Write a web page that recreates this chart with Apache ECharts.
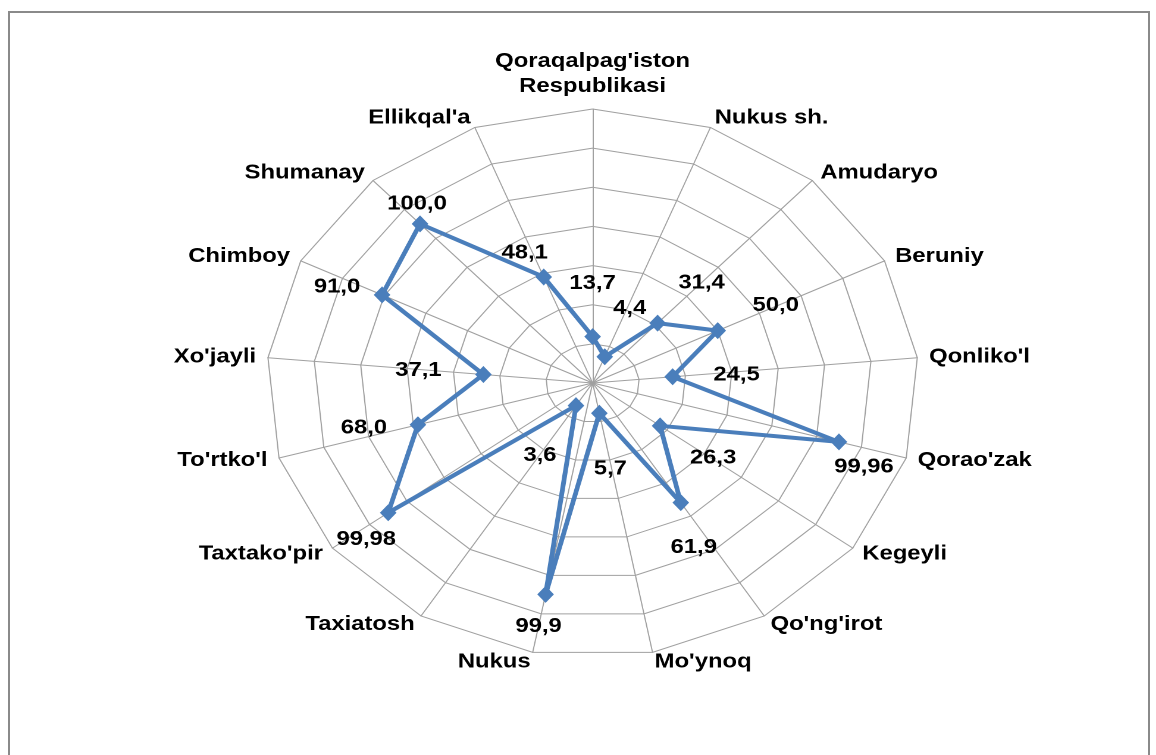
<!DOCTYPE html>
<html>
<head>
<meta charset="utf-8">
<script src="https://cdn.jsdelivr.net/npm/echarts@6/dist/echarts.min.js"></script>
<style>
  html, body { margin: 0; padding: 0; background: #fff; overflow: hidden; }
  #frame { position: absolute; left: 8px; top: 11px; width: 1138px; height: 800px;
           border: 2px solid #8a8a8a; border-bottom: none; }
  /* the original picture is stretched sideways, so the radar is an ellipse */
  #main { position: absolute; left: 0; top: 0; width: 971px; height: 755px;
          transform: scaleX(1.19); transform-origin: 0 0; }
</style>
</head>
<body>
<div id="frame"></div>
<div id="main"></div>
<script>
var STRETCH = 1.19;

var districts = ["Qoraqalpag'iston\nRespublikasi", "Nukus sh.", "Amudaryo", "Beruniy",
    "Qonliko'l", "Qorao'zak", "Kegeyli", "Qo'ng'irot", "Mo'ynoq", "Nukus", "Taxiatosh",
    "Taxtako'pir", "To'rtko'l", "Xo'jayli", "Chimboy", "Shumanay", "Ellikqal'a"];
var shares = [13.7, 4.4, 31.4, 50.0, 24.5, 99.96, 26.3, 61.9, 5.7, 99.9, 3.6,
    99.98, 68.0, 37.1, 91.0, 100.0, 48.1];
// where each value label sits relative to its point (picture px)
var labelShift = [[0, -53], [25, -48], [44, -40], [58, -25], [64, -2], [25, 25], [53, 32],
    [13, 45], [11, 56], [-7, 32], [-36, 50], [-22, 27], [-54, 3], [-65, -4], [-45, -8],
    [-3, -20], [-19, -24]];

function fmt(v) {
    var s = Number.isInteger(v) ? v.toFixed(1) : String(v);
    return s.replace('.', ',');
}

// echarts radar runs counter-clockwise, the original runs clockwise
var order = [0];
for (var i = districts.length - 1; i > 0; i--) order.push(i);
var indicators = order.map(function (k) { return { name: districts[k], min: -10, max: 130 }; });
var values = order.map(function (k) { return shares[k]; });
var texts = shares.map(fmt);

var myChart = echarts.init(document.getElementById('main'), null, { devicePixelRatio: 2 });
var option = {
    backgroundColor: 'transparent',
    animation: false,
    radar: {
        center: [498, 383],
        radius: 274,
        startAngle: 90,
        splitNumber: 7,
        shape: 'polygon',
        nameGap: 10,
        axisName: {
            color: '#000',
            fontSize: 20,
            fontWeight: 'bold',
            fontFamily: 'Liberation Sans',
            lineHeight: 25
        },
        axisLine: { lineStyle: { color: '#a0a0a0', width: 1 } },
        splitLine: { lineStyle: { color: '#a0a0a0', width: 1 } },
        splitArea: { show: false },
        axisLabel: { show: false },
        axisTick: { show: false },
        indicator: indicators
    },
    series: [
        {
            type: 'radar',
            symbol: 'diamond',
            symbolSize: [14, 17],
            lineStyle: { color: '#4a7ebb', width: 4 },
            itemStyle: { color: '#4a7ebb' },
            label: {
                show: true,
                position: 'inside',
                color: '#000',
                fontSize: 20,
                fontWeight: 'bold',
                fontFamily: 'Liberation Sans',
                formatter: function (p) { return fmt(values[p.dimensionIndex]); }
            },
            labelLayout: function (p) {
                var k = texts.indexOf(p.text);
                if (k < 0) return {};
                return { dx: labelShift[k][0] / STRETCH, dy: labelShift[k][1] };
            },
            emphasis: { disabled: true },
            data: [{ value: values }]
        }
    ]
};

myChart.setOption(option);
</script>
</body>
</html>
